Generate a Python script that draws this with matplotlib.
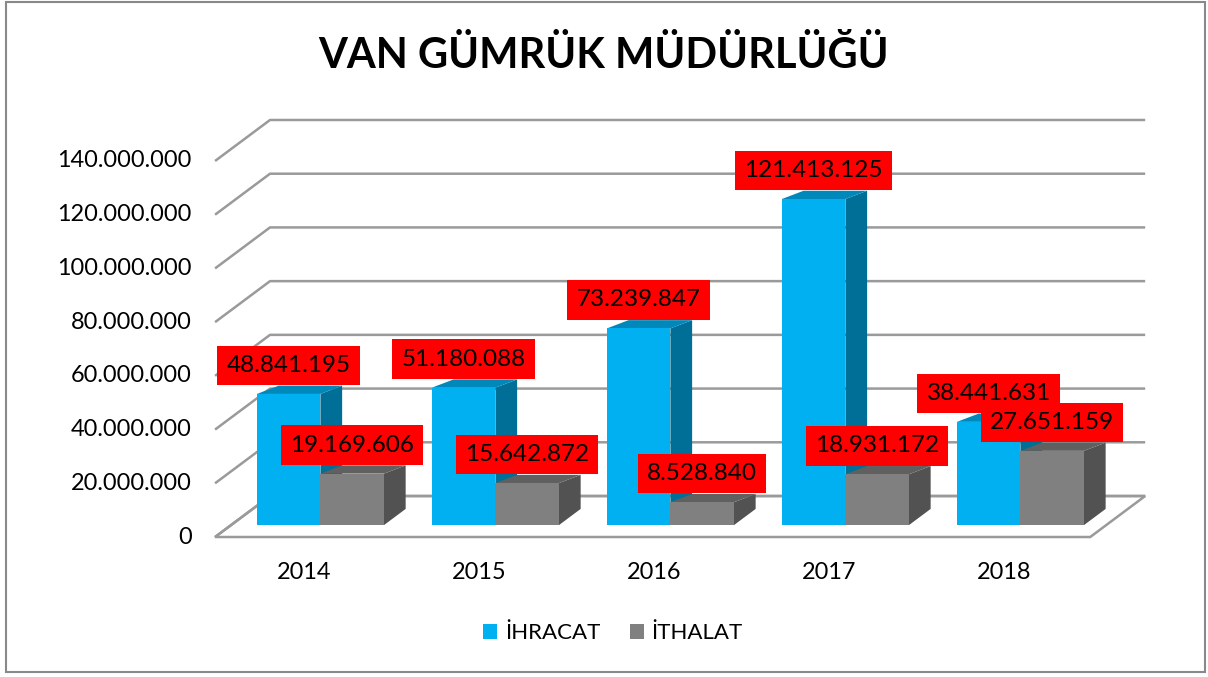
import matplotlib
matplotlib.use("Agg")
import matplotlib.pyplot as plt
from matplotlib.patches import Polygon, Patch, Rectangle

plt.rcParams["font.family"] = ["Lato", "DejaVu Sans"]

# data
years = ["2014", "2015", "2016", "2017", "2018"]
ihracat = [48841195, 51180088, 73239847, 121413125, 38441631]
ithalat = [19169606, 15642872, 8528840, 18931172, 27651159]
series_names = ["İHRACAT", "İTHALAT"]
y_ticks = [0, 20000000, 40000000, 60000000, 80000000, 100000000, 120000000, 140000000]

# colours (front, top, side)
BLUE = ("#00B0F0", "#0088BA", "#006F97")
GRAY = ("#808080", "#606060", "#525252")
GRID = "#9A9A9A"

# fake 3-D geometry in data units
DX = 0.314           # x shift for the full floor depth
DV = 15.26e6         # value shift for the full floor depth
XL, XR = -0.511, 4.49
ZB = 0.29            # depth where the bars stand
BD = 0.395           # bar depth
TOP_SQ = 0.51        # bar tops look flatter (perspective)
BW = 0.363


def proj(x, v, d):
    return (x + d * DX, v + d * DV)


def fmt(v):
    return f"{v:,}".replace(",", ".")


fig = plt.figure(figsize=(12.08, 6.77), dpi=100)
ax = fig.add_axes([0, 0, 1, 1])
ax.set_xlim(-1.74, 5.163)
ax.set_ylim(-52.12e6, 199.93e6)
ax.axis("off")

# floor
floor = [proj(XL, 0, 0), proj(XR, 0, 0), proj(XR, 0, 1), proj(XL, 0, 1)]
ax.add_patch(Polygon(floor, closed=True, facecolor="white", edgecolor=GRID, lw=1.8, zorder=1))

# grid lines on side and back walls + tick labels
for t in y_ticks:
    pts = [proj(XL, t, 0), proj(XL, t, 1), proj(XR, t, 1)]
    ax.plot([p[0] for p in pts], [p[1] for p in pts], color=GRID, lw=1.8,
            solid_capstyle="butt", zorder=1)
    ax.text(XL - 0.132, t, fmt(t), ha="right", va="center", fontsize=16.9, color="black")


def bar3d(x0, h, cols, z):
    front, top, side = cols
    x1 = x0 + BW
    b = ZB * DV
    xs = x0 + ZB * DX
    xe = x1 + ZB * DX
    ddx = BD * DX
    top_dv = BD * DV * TOP_SQ
    side_poly = [(xe, b), (xe + ddx, b + BD * DV), (xe + ddx, b + h + top_dv), (xe, b + h)]
    top_poly = [(xs, b + h), (xe, b + h), (xe + ddx, b + h + top_dv), (xs + ddx, b + h + top_dv)]
    ax.add_patch(Polygon(side_poly, closed=True, facecolor=side, edgecolor="none", zorder=z))
    ax.add_patch(Polygon(top_poly, closed=True, facecolor=top, edgecolor="none", zorder=z + 0.1))
    ax.add_patch(Rectangle((xs, b), xe - xs, h, facecolor=front, edgecolor="none", zorder=z + 0.2))
    return (xs + xe) / 2, b + h


labels = []
for i in range(len(years)):
    cx, ty = bar3d(i - BW, ihracat[i], BLUE, 3 + i)
    labels.append((cx, ty, ihracat[i]))
    cx, ty = bar3d(i, ithalat[i], GRAY, 3.5 + i)
    labels.append((cx, ty, ithalat[i]))
    ax.text(i, -13.4e6, years[i], ha="center", va="center", fontsize=16.9)

for k, (cx, ty, v) in enumerate(labels):
    ax.annotate(fmt(v), (cx, ty), xytext=(0, 20.5), textcoords="offset points",
                ha="center", va="center", fontsize=17.5, color="black", zorder=20 + k,
                bbox=dict(boxstyle="square,pad=0.38", facecolor="#FF0000", edgecolor="none"))

fig.text(0.5, 1 - 55 / 677, "VAN GÜMRÜK MÜDÜRLÜĞÜ", ha="center", va="center",
         fontsize=30, fontweight="bold")

handles = [Patch(facecolor=BLUE[0]), Patch(facecolor=GRAY[0])]
fig.legend(handles, series_names, loc="center", bbox_to_anchor=(613 / 1208, 1 - 633 / 677),
           ncol=2, frameon=False, fontsize=16, handlelength=0.65, handleheight=0.65,
           handletextpad=0.35, columnspacing=1.3)

# chart border
fig.add_artist(Rectangle((6 / 1208, 5 / 677), 1199 / 1208, 670 / 677, transform=fig.transFigure,
                         fill=False, edgecolor="#898989", lw=1.5))

fig.savefig("out.png", dpi=100)
